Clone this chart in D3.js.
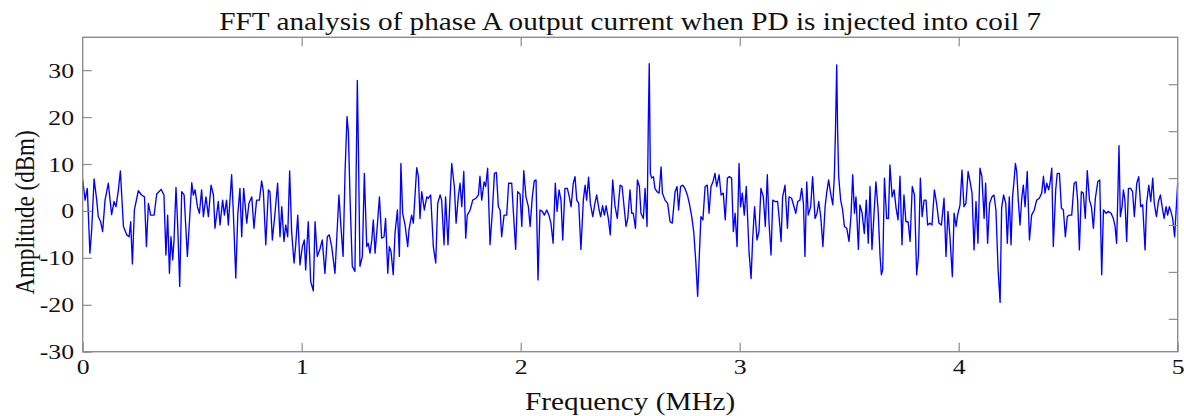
<!DOCTYPE html>
<html>
<head>
<meta charset="utf-8">
<script src="https://cdn.jsdelivr.net/npm/d3@7"></script>
<style>
  body { margin: 0; background: #fff; }
  svg { display: block; }
  .tick text { font-family: "Liberation Serif", "Times New Roman", serif; fill: #111; }
  .tick line { stroke: #8c8c8c; stroke-width: 1.2; }
  .lbl { font-family: "Liberation Serif", "Times New Roman", serif; fill: #111; }
</style>
</head>
<body>
<div id="chart"></div>
<script>
// spectrum: frequency (MHz) and amplitude (dBm)
const freq = [
  0.000,0.011,0.021,0.033,0.041,0.052,0.064,0.071,0.082,0.091,0.102,0.117,0.132,0.143,0.152,0.163,0.172,0.186,0.201,0.212,
  0.219,0.227,0.236,0.254,0.269,0.282,0.291,0.300,0.310,0.326,0.338,0.358,0.371,0.380,0.388,0.396,0.403,0.411,0.417,0.426,
  0.434,0.443,0.452,0.463,0.478,0.498,0.505,0.513,0.524,0.533,0.543,0.551,0.563,0.574,0.586,0.597,0.604,0.619,0.627,0.639,
  0.647,0.657,0.665,0.680,0.688,0.699,0.708,0.718,0.726,0.735,0.749,0.759,0.772,0.782,0.794,0.807,0.817,0.825,0.836,0.848,
  0.855,0.866,0.878,0.890,0.901,0.909,0.919,0.927,0.936,0.945,0.954,0.965,0.972,0.982,0.992,1.003,1.012,1.018,1.030,1.041,
  1.053,1.061,1.071,1.084,1.094,1.106,1.117,1.126,1.137,1.152,1.170,1.179,1.189,1.198,1.207,1.213,1.221,1.231,1.243,1.254,
  1.259,1.266,1.277,1.286,1.297,1.304,1.312,1.320,1.327,1.335,1.345,1.355,1.365,1.376,1.383,1.393,1.400,1.408,1.418,1.426,
  1.437,1.446,1.453,1.461,1.472,1.484,1.490,1.502,1.510,1.525,1.533,1.540,1.548,1.560,1.571,1.578,1.589,1.601,1.612,1.621,
  1.632,1.639,1.650,1.657,1.668,1.677,1.685,1.697,1.705,1.715,1.723,1.731,1.740,1.749,1.756,1.769,1.781,1.796,1.807,1.814,
  1.822,1.833,1.840,1.849,1.860,1.871,1.880,1.889,1.898,1.906,1.913,1.924,1.936,1.945,1.959,1.966,1.977,1.986,1.997,2.005,
  2.014,2.024,2.035,2.043,2.053,2.062,2.070,2.079,2.088,2.099,2.108,2.119,2.129,2.138,2.148,2.158,2.166,2.175,2.184,2.192,
  2.202,2.213,2.222,2.230,2.240,2.248,2.256,2.265,2.275,2.286,2.294,2.301,2.310,2.318,2.329,2.339,2.347,2.358,2.365,2.374,
  2.382,2.390,2.400,2.409,2.420,2.431,2.441,2.454,2.463,2.472,2.481,2.489,2.499,2.507,2.514,2.524,2.533,2.542,2.549,2.560,
  2.568,2.577,2.583,2.587,2.592,2.598,2.606,2.613,2.622,2.632,2.641,2.647,2.659,2.671,2.682,2.692,2.705,2.714,2.721,2.730,
  2.740,2.750,2.761,2.770,2.781,2.790,2.799,2.808,2.816,2.823,2.832,2.842,2.852,2.860,2.869,2.878,2.887,2.895,2.906,2.915,
  2.925,2.934,2.944,2.953,2.963,2.971,2.979,2.988,2.997,3.004,3.012,3.021,3.030,3.043,3.052,3.059,3.068,3.079,3.088,3.097,
  3.108,3.117,3.126,3.134,3.143,3.151,3.161,3.173,3.181,3.189,3.196,3.207,3.218,3.225,3.237,3.248,3.256,3.265,3.275,3.283,
  3.291,3.298,3.306,3.313,3.324,3.333,3.344,3.353,3.361,3.370,3.380,3.390,3.397,3.406,3.415,3.425,3.432,3.437,3.443,3.447,
  3.452,3.461,3.470,3.478,3.489,3.499,3.508,3.516,3.524,3.531,3.542,3.549,3.559,3.569,3.578,3.587,3.595,3.604,3.613,3.622,
  3.632,3.641,3.647,3.653,3.661,3.671,3.679,3.686,3.696,3.705,3.714,3.723,3.732,3.741,3.750,3.759,3.769,3.778,3.788,3.798,
  3.808,3.816,3.825,3.833,3.842,3.851,3.858,3.869,3.878,3.889,3.899,3.910,3.921,3.933,3.942,3.951,3.960,3.971,3.979,3.988,
  3.995,4.006,4.015,4.024,4.033,4.043,4.052,4.061,4.070,4.079,4.088,4.097,4.106,4.116,4.123,4.132,4.141,4.152,4.161,4.170,
  4.180,4.189,4.196,4.205,4.215,4.222,4.231,4.239,4.246,4.253,4.259,4.265,4.272,4.280,4.288,4.295,4.303,4.313,4.323,4.333,
  4.345,4.356,4.368,4.379,4.387,4.394,4.402,4.411,4.417,4.425,4.432,4.443,4.450,4.460,4.469,4.478,4.487,4.496,4.505,4.516,
  4.527,4.536,4.543,4.551,4.560,4.569,4.578,4.587,4.597,4.606,4.615,4.624,4.635,4.644,4.653,4.661,4.673,4.683,4.696,4.706,
  4.714,4.721,4.727,4.732,4.738,4.746,4.752,4.759,4.767,4.775,4.785,4.794,4.802,4.813,4.822,4.831,4.840,4.851,4.858,4.868,
  4.877,4.886,4.893,4.903,4.912,4.921,4.930,4.938,4.947,4.954,4.962,4.969,4.977,4.986,5.000
]
const amp = [
  6.6,2.3,4.8,-9.0,-4.0,6.8,2.3,-1.2,-2.3,-4.4,2.3,5.9,-0.8,2.0,0.9,4.5,8.5,-3.3,-5.1,-5.5,
  -2.3,-11.3,0.2,4.3,3.4,3.0,-7.6,1.6,-0.9,-0.9,3.6,4.6,3.4,-9.4,-0.9,-13.3,-5.5,-10.4,-6.2,5.0,
  -3.3,-16.1,4.1,3.4,-9.7,6.0,3.4,4.5,0.9,-0.5,4.5,-1.2,3.0,-1.2,5.5,3.4,-3.7,2.0,-3.0,2.3,
  -0.9,2.3,-3.0,7.7,-0.5,-14.3,-0.9,4.8,-5.5,4.8,-2.6,1.6,3.0,-3.7,2.3,2.3,6.4,4.1,-7.2,4.5,
  4.1,-6.2,-0.5,5.9,-5.5,0.9,-6.5,-3.0,-5.5,8.5,-4.4,-11.1,-7.6,-0.9,-11.5,-7.6,-6.2,-12.6,-2.3,-15.0,
  -17.0,-2.3,-9.7,-8.0,-6.2,-13.3,-5.5,-5.1,-7.6,-13.3,3.4,-3.3,-9.7,8.4,20.1,16.9,2.3,-11.8,-12.9,27.8,
  13.0,-11.8,-9.7,8.0,-7.6,-6.9,-9.0,-6.2,-1.9,-9.0,-3.3,3.0,-5.8,-5.5,-1.6,-13.3,-7.6,-8.7,-13.6,-4.8,
  0.2,-9.7,10.1,-0.5,-3.0,-7.6,-4.0,-0.9,-2.6,9.2,7.3,-1.6,4.1,0.2,3.0,2.7,3.4,-7.6,-11.1,1.6,
  3.4,2.3,-7.2,3.0,-7.2,2.3,10.1,5.2,-2.6,3.0,5.9,0.9,8.4,-5.8,-0.9,0.2,2.3,2.7,3.4,7.4,
  2.3,6.2,5.2,9.1,-7.2,0.2,8.0,8.2,0.9,0.2,-5.5,-0.9,-0.9,5.9,5.9,0.2,-8.2,4.1,3.6,-3.3,
  8.6,3.0,0.9,-3.3,3.0,6.4,6.6,-14.7,0.2,-0.1,-0.9,0.2,-0.9,-2.6,-6.9,5.9,-0.1,4.5,2.3,-6.2,
  4.8,4.8,3.0,0.9,5.9,7.3,2.3,1.6,-8.2,2.3,5.5,2.3,7.2,1.6,-1.2,1.6,3.4,0.2,-1.2,1.1,
  -0.9,1.1,-1.6,-5.1,6.6,0.9,-1.6,5.5,5.2,0.9,-3.3,-1.6,4.5,-0.5,-0.5,-3.7,6.6,5.2,-0.5,-1.6,
  4.8,-3.3,19.7,31.4,8.0,7.0,7.3,4.8,4.1,3.8,9.4,3.8,2.3,1.6,-2.3,-2.6,4.1,5.2,0.2,5.2,
  5.5,4.8,3.4,1.6,-1.2,-4.4,-10.4,-18.2,-9.0,-1.2,-1.9,5.2,5.5,-0.5,5.2,6.2,8.0,5.2,7.7,3.4,
  3.8,-1.9,7.0,7.3,7.0,-4.4,-0.5,-7.6,10.1,0.9,3.8,-0.9,5.2,-9.0,-14.4,-6.2,0.9,-6.2,-4.4,4.8,
  3.0,-3.3,7.7,-2.6,-9.4,2.3,2.0,2.0,-1.9,-6.5,3.0,5.5,-3.7,3.0,2.7,0.9,-0.5,2.0,2.3,4.8,
  1.6,-9.7,6.2,-0.9,0.9,7.3,-1.6,-0.5,2.0,-1.2,-7.6,0.9,3.8,6.6,3.8,1.3,7.3,16.5,31.1,17.2,
  7.3,2.3,0.2,-3.3,-3.7,-6.5,-1.2,7.7,-0.5,3.0,-8.2,1.3,-0.5,-4.8,2.3,-6.9,5.2,-8.2,-0.9,6.2,
  0.2,-9.7,-13.6,-12.5,7.0,-1.6,-1.6,9.8,3.0,4.5,0.6,-1.9,7.4,-7.2,3.4,-2.3,-2.3,-6.5,5.2,3.4,
  -13.6,-9.7,7.0,-1.2,2.3,2.3,-3.0,-2.6,-3.0,4.5,1.6,-2.6,-3.0,2.7,-9.7,-0.1,-5.5,-14.0,-0.5,-3.3,
  -0.9,1.3,8.7,0.9,1.6,8.4,6.2,3.8,-8.3,2.0,-6.9,9.1,7.3,-1.6,5.9,-6.9,1.6,3.0,3.4,0.2,
  -12.6,-19.5,0.6,3.4,1.6,-6.9,3.0,-7.2,3.0,6.6,10.1,8.4,2.3,-3.0,2.7,5.5,0.9,8.4,-6.2,-0.9,
  0.2,2.3,2.7,3.8,7.4,3.8,5.9,4.5,5.9,9.1,-7.6,4.5,8.0,8.0,0.6,0.2,-5.5,-1.2,-0.9,-0.9,
  5.9,6.2,2.3,-8.3,4.1,3.8,-1.6,8.6,2.3,0.9,-3.7,2.7,6.2,6.6,-13.6,0.2,-0.5,-0.1,-0.5,-1.6,
  -3.3,-6.9,3.8,13.9,-1.2,0.9,4.5,2.3,-6.5,4.8,4.8,4.1,-1.2,5.9,7.3,0.9,1.3,-8.3,1.6,5.5,
  2.0,7.0,1.6,-1.2,2.0,3.4,0.6,-1.6,0.9,-0.9,0.9,-0.1,-1.6,-5.5,6.0
]
const xTicks = [0, 1, 2, 3, 4, 5]
const yTicks = [-30, -20, -10, 0, 10, 20, 30]
const yTicksRight = [27, 17, 7, -3, -13, -23]
const xDomain = [0, 5]
const yDomain = [-30, 37]

const titleText = "FFT analysis of phase A output current when PD is injected into coil 7"
const xLabel = "Frequency (MHz)"
const yLabel = "Amplitude (dBm)"

var width = 1184
var height = 416
var margin = {top: 37.3, right: 6.3, bottom: 64.3, left: 82.7}
var stretch = 1.17   // the source image is a bit wider than tall

var svg = d3.select("#chart").append("svg")
    .attr("width", width)
    .attr("height", height)

var x = d3.scaleLinear()
    .domain(xDomain)
    .range([margin.left, width - margin.right])

var y = d3.scaleLinear()
    .domain(yDomain)
    .range([height - margin.bottom, margin.top])

var data = freq.map((f, i) => ({f: f, a: amp[i]}))

var line = d3.line()
    .x(d => x(d.f))
    .y(d => y(d.a))

svg.append("path")
    .datum(data)
    .attr("fill", "none")
    .attr("stroke", "#0000ff")
    .attr("stroke-width", 1.35)
    .attr("stroke-linejoin", "round")
    .attr("d", line)

// plain hyphen for negatives, like the original
var fmt = d => String(d)

// axes, ticks pointing inward
var tickLen = 9

svg.append("g")
    .attr("transform", `translate(0,${y(yDomain[0])})`)
    .call(d3.axisBottom(x).tickValues(xTicks).tickSize(-tickLen).tickPadding(7).tickFormat(fmt))
    .call(g => g.select(".domain").remove())
    .call(g => g.selectAll("text").attr("font-size", 22).attr("transform", `scale(${stretch},1)`))

svg.append("g")
    .attr("transform", `translate(0,${y(yDomain[1])})`)
    .call(d3.axisTop(x).tickValues(xTicks.slice(1, -1)).tickSize(-tickLen).tickFormat(""))
    .call(g => g.select(".domain").remove())

svg.append("g")
    .attr("transform", `translate(${x(xDomain[0])},0)`)
    .call(d3.axisLeft(y).tickValues(yTicks).tickSize(-tickLen).tickPadding(7.4).tickFormat(fmt))
    .call(g => g.select(".domain").remove())
    .call(g => g.selectAll("text").attr("font-size", 22).attr("transform", `scale(${stretch},1)`))

svg.append("g")
    .attr("transform", `translate(${x(xDomain[1])},0)`)
    .call(d3.axisRight(y).tickValues(yTicksRight).tickSize(-tickLen).tickFormat(""))
    .call(g => g.select(".domain").remove())

// frame
svg.append("rect")
    .attr("x", x(xDomain[0]))
    .attr("y", y(yDomain[1]))
    .attr("width", x(xDomain[1]) - x(xDomain[0]))
    .attr("height", y(yDomain[0]) - y(yDomain[1]))
    .attr("fill", "none")
    .attr("stroke", "#8c8c8c")
    .attr("stroke-width", 1.4)

var cx = (x(xDomain[0]) + x(xDomain[1])) / 2

svg.append("text")
    .attr("class", "lbl")
    .attr("transform", `translate(${cx},30) scale(${stretch},1)`)
    .attr("text-anchor", "middle")
    .attr("font-size", 25)
    .text(titleText)

svg.append("text")
    .attr("class", "lbl")
    .attr("transform", `translate(${cx},410) scale(${stretch},1)`)
    .attr("text-anchor", "middle")
    .attr("font-size", 25)
    .text(xLabel)

svg.append("text")
    .attr("class", "lbl")
    .attr("transform", `translate(34,${(y(yDomain[0]) + y(yDomain[1])) / 2 + 18}) scale(${stretch},1) rotate(-90)`)
    .attr("text-anchor", "middle")
    .attr("font-size", 23)
    .text(yLabel)
</script>
</body>
</html>
